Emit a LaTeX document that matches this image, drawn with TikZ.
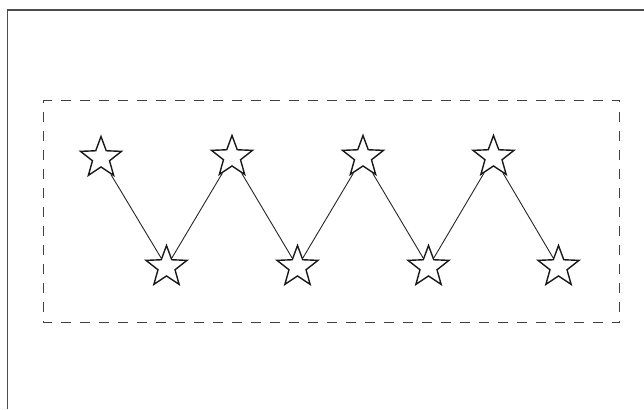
\documentclass[tikz,border=0pt]{standalone}
\usetikzlibrary{shapes.geometric}
\begin{document}
\begin{tikzpicture}[x=1pt,y=-1pt,
  starnode/.style={star, star points=5, star point ratio=2.4, minimum size=43pt, inner sep=0pt, draw=black!90, line width=1.4pt, fill=white},
  link/.style={draw=black!85, line width=0.9pt},
  frame/.style={draw=black!70, line width=1.5pt},
  box/.style={draw=black!75, line width=0.9pt, dash pattern=on 10pt off 9pt, dash phase=7pt}]
\useasboundingbox (0,0) rectangle (644,409);
\draw[frame] (7.5,409) -- (7.5,10) -- (644,10);
\draw[box] (43,100) rectangle (619.5,322.5);
\node[starnode] (t1) at (101,158) {};
\node[starnode] (b1) at (166.5,267) {};
\node[starnode] (t2) at (232,157) {};
\node[starnode] (b2) at (297.5,267) {};
\node[starnode] (t3) at (363,157) {};
\node[starnode] (b3) at (428.5,267) {};
\node[starnode] (t4) at (493.5,157) {};
\node[starnode] (b4) at (558.5,267) {};
\draw[link] (t1) -- (b1) -- (t2) -- (b2) -- (t3) -- (b3) -- (t4) -- (b4);
\end{tikzpicture}
\end{document}
